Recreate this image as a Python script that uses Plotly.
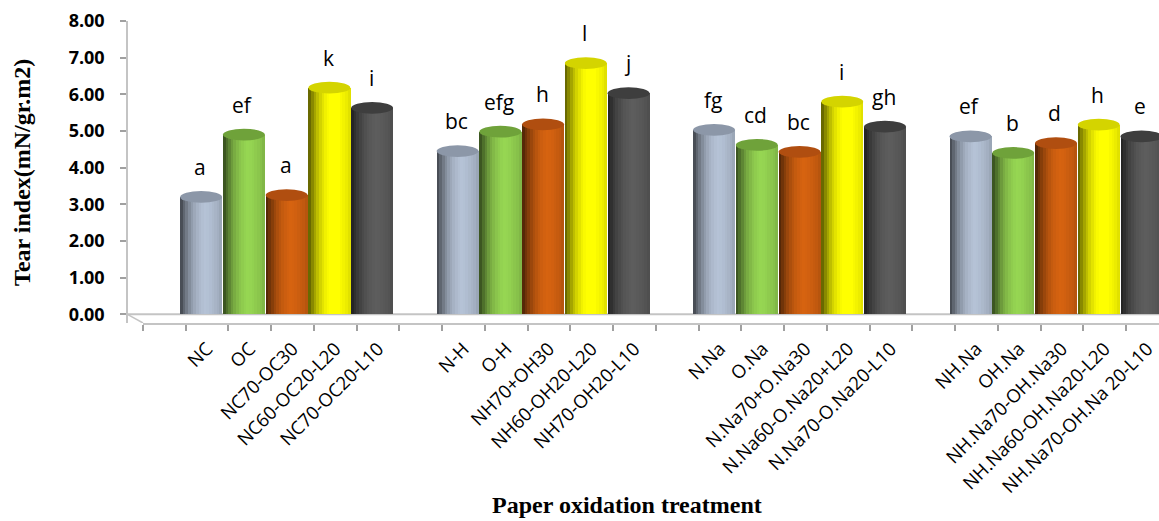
import numpy as np
import plotly.graph_objects as go

# ---------------- data ----------------
group1_labels = ["NC", "OC", "NC70-OC30", "NC60-OC20-L20", "NC70-OC20-L10"]
group2_labels = ["N-H", "O-H", "NH70+OH30", "NH60-OH20-L20", "NH70-OH20-L10"]
group3_labels = ["N.Na", "O.Na", "N.Na70+O.Na30", "N.Na60-O.Na20+L20", "N.Na70-O.Na20-L10"]
group4_labels = ["NH.Na", "OH.Na", "NH.Na70-OH.Na30", "NH.Na60-OH.Na20-L20", "NH.Na70-OH.Na 20-L10"]

group1_values = [3.20, 4.90, 3.25, 6.18, 5.63]
group2_values = [4.45, 4.98, 5.18, 6.85, 6.03]
group3_values = [5.03, 4.62, 4.43, 5.80, 5.12]
group4_values = [4.85, 4.40, 4.67, 5.17, 4.85]

group1_letters = ["a", "ef", "a", "k", "i"]
group2_letters = ["bc", "efg", "h", "l", "j"]
group3_letters = ["fg", "cd", "bc", "i", "gh"]
group4_letters = ["ef", "b", "d", "h", "e"]

y_title = "Tear index(mN/gr.m2)"
x_title = "Paper oxidation treatment"

# ---------------- build category slots (blank slot before each group) ----------------
cats, vals, letters, series = [], [], [], []
for gi, (labs, vs, ls) in enumerate([(group1_labels, group1_values, group1_letters),
                                     (group2_labels, group2_values, group2_letters),
                                     (group3_labels, group3_values, group3_letters),
                                     (group4_labels, group4_values, group4_letters)]):
    cats.append(" " * (gi + 1))
    vals.append(None)
    letters.append("")
    series.append(None)
    for si, (l, v, t) in enumerate(zip(labs, vs, ls)):
        cats.append(l)
        vals.append(v)
        letters.append(t)
        series.append(si)

# ---------------- styling ----------------
base_rgb = [(176, 189, 208), (146, 208, 80), (208, 96, 16), (255, 255, 0), (90, 90, 90)]
cap_rgb = [(140, 151, 168), (111, 162, 58), (176, 78, 16), (212, 212, 0), (62, 62, 62)]
prof_t = [0.0, 0.1, 0.2, 0.3, 0.4, 0.5, 0.6, 0.7, 0.8, 0.9, 1.0]
prof_f = [0.35, 0.55, 0.72, 0.85, 0.94, 1.0, 1.03, 1.01, 0.97, 0.93, 0.86]

def shade(rgb, f):
    return "rgb(%d,%d,%d)" % tuple(min(255, int(round(c * f))) for c in rgb)

N = 16
bw = 0.98
off0 = -0.63

fig = go.Figure()
for k in range(N):
    t = (k + 0.5) / N
    f = float(np.interp(t, prof_t, prof_f))
    colors = [shade(base_rgb[s], f) if s is not None else "white" for s in series]
    fig.add_trace(go.Bar(
        x=cats, y=vals,
        width=bw / N * 1.1, offset=off0 + k * bw / N,
        marker=dict(color=colors, line=dict(width=0)),
        hoverinfo="skip", showlegend=False,
    ))

shapes = []
# floor: back edge, side diagonal
shapes.append(dict(type="line", xref="paper", yref="y", x0=0, x1=1, y0=0, y1=0,
                   line=dict(color="#c4c4c4", width=2), layer="below"))
x_dom0 = (143 - 127) / 1032
shapes.append(dict(type="line", xref="paper", yref="y", x0=0, x1=x_dom0, y0=0, y1=-0.24,
                   line=dict(color="#c4c4c4", width=1.5), layer="below"))
# cylinder caps
for i, (v, s) in enumerate(zip(vals, series)):
    if v is None:
        continue
    shapes.append(dict(type="circle", xref="x", yref="y",
                       x0=i + off0, x1=i + off0 + bw, y0=v - 0.16, y1=v + 0.16,
                       fillcolor=shade(cap_rgb[s], 1.0), line=dict(width=0), layer="above"))

annotations = []
for i, (v, t) in enumerate(zip(vals, letters)):
    if v is None:
        continue
    annotations.append(dict(x=cats[i], y=v, xref="x", yref="y", text=t, showarrow=False,
                            yshift=30, xshift=-7, yanchor="middle",
                            font=dict(family="Open Sans", size=21, color="black")))
annotations.append(dict(text=y_title, xref="paper", yref="paper", x=(22 - 127) / 1032, y=0.497,
                        textangle=-90, showarrow=False, xanchor="center", yanchor="middle",
                        font=dict(family="Liberation Serif", size=24, color="black", weight="bold")))
annotations.append(dict(text=x_title, xref="paper", yref="paper", x=(627 - 127) / 1032, y=(323 - 505) / 302,
                        showarrow=False, xanchor="center", yanchor="middle",
                        font=dict(family="Liberation Serif", size=24, color="black", weight="bold")))

fig.update_layout(
    width=1159, height=521,
    margin=dict(l=127, r=0, t=21, b=198, pad=0),
    paper_bgcolor="white", plot_bgcolor="rgba(0,0,0,0)",
    barmode="overlay", bargap=0,
    shapes=shapes, annotations=annotations,
    xaxis=dict(
        type="category", categoryorder="array", categoryarray=cats,
        range=[-0.5, 23.27], domain=[x_dom0, 1],
        showline=True, linecolor="#c4c4c4", linewidth=1.5,
        ticks="outside", tickson="boundaries", ticklen=6, tickcolor="#a0a0a0", tickwidth=1.5,
        tickangle=-45, ticklabelstandoff=6,
        tickfont=dict(family="Open Sans", size=18.5, color="black"),
        showgrid=False, zeroline=False, fixedrange=True,
    ),
    yaxis=dict(
        range=[-0.24, 8.0], anchor="free", position=0,
        tickvals=[0, 1, 2, 3, 4, 5, 6, 7, 8], tickformat=".2f",
        showline=True, linecolor="#c4c4c4", linewidth=1.5,
        ticks="outside", ticklen=6, tickcolor="#a0a0a0", tickwidth=1.5,
        ticklabelstandoff=12,
        tickfont=dict(family="Open Sans", size=18, color="black", weight="bold"),
        showgrid=False, zeroline=False, fixedrange=True,
    ),
)

fig.write_html("out.html")
